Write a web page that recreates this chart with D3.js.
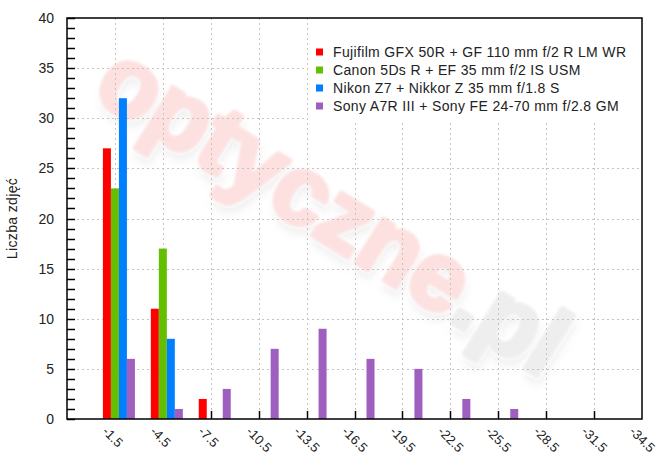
<!DOCTYPE html>
<html><head><meta charset="utf-8">
<script src="https://cdn.jsdelivr.net/npm/d3@7"></script>
<style>
body{margin:0;background:#fff}
svg{display:block}
text{font-family:"Liberation Sans",Arial,Helvetica,sans-serif}
</style>
</head><body>
<svg id="chart" width="670" height="463"></svg>
<script>
// ---- data ----
const categories = ["-1.5","-4.5","-7.5","-10.5","-13.5","-16.5","-19.5","-22.5","-25.5","-28.5","-31.5","-34.5"];
const seriesNames = [
  "Fujifilm GFX 50R + GF 110 mm f/2 R LM WR",
  "Canon 5Ds R + EF 35 mm f/2 IS USM",
  "Nikon Z7 + Nikkor Z 35 mm f/1.8 S",
  "Sony A7R III + Sony FE 24-70 mm f/2.8 GM"
];
const fujifilmValues = [27, 11, 2, 0, 0, 0, 0, 0, 0, 0, 0, 0];
const canonValues    = [23, 17, 0, 0, 0, 0, 0, 0, 0, 0, 0, 0];
const nikonValues    = [32,  8, 0, 0, 0, 0, 0, 0, 0, 0, 0, 0];
const sonyValues     = [ 6,  1, 3, 7, 9, 6, 5, 2, 1, 0, 0, 0];
const seriesColors = ["#ff0000", "#63bf00", "#0080ff", "#9f5fbf"];
const yTickLabels = [0, 5, 10, 15, 20, 25, 30, 35, 40];
const yAxisTitle = "Liczba zdjęć";
const watermarkParts = ["optyczne", ".pl"];

const seriesValues = [fujifilmValues, canonValues, nikonValues, sonyValues];

// ---- layout ----
const L = 67, R = 642, T = 18, B = 419;
const svg = d3.select("#chart");

const x = d3.scaleBand().domain(categories).range([L, R]);
const groupShift = 4;
const groupCenter = c => x(c) + x.bandwidth() + groupShift;
const xs = d3.scaleBand().domain(seriesNames).range([-16, 16]);
const y = d3.scaleLinear().domain([0, 40]).range([B, T]);

// ---- watermark ----
const defs = svg.append("defs");
const f = defs.append("filter").attr("id", "wm").attr("x", "-20%").attr("y", "-40%").attr("width", "140%").attr("height", "180%");
f.append("feGaussianBlur").attr("in", "SourceAlpha").attr("stdDeviation", 4).attr("result", "b");
f.append("feOffset").attr("in", "b").attr("dx", 5).attr("dy", 6).attr("result", "o");
f.append("feFlood").attr("flood-color", "#000").attr("flood-opacity", 0.06);
f.append("feComposite").attr("in2", "o").attr("operator", "in").attr("result", "s");
f.append("feGaussianBlur").attr("in", "SourceGraphic").attr("stdDeviation", 0.8).attr("result", "g");
const fm = f.append("feMerge");
fm.append("feMergeNode").attr("in", "s");
fm.append("feMergeNode").attr("in", "g");

const wm = svg.append("text")
  .attr("transform", "translate(90,96) rotate(32)")
  .attr("font-size", 97).attr("font-weight", "bold")
  .attr("stroke-width", 5).attr("stroke-linejoin", "round")
  .attr("filter", "url(#wm)");
const wmFill = ["#fde1e1", "#eeeeee"];
wm.selectAll("tspan").data(watermarkParts).join("tspan")
  .attr("fill", (d, i) => wmFill[i]).attr("stroke", (d, i) => wmFill[i]).text(d => d);

// ---- grid ----
const grid = svg.append("g").attr("stroke", "#c4c4c4").attr("stroke-dasharray", "2,3").attr("stroke-width", 1);
grid.selectAll("line.v").data(categories.slice(1)).join("line")
  .attr("x1", d => Math.round(x(d)) + 0.5).attr("x2", d => Math.round(x(d)) + 0.5)
  .attr("y1", T).attr("y2", B);
grid.selectAll("line.h").data(yTickLabels.filter(v => v > 0 && v < 40)).join("line")
  .attr("x1", L).attr("x2", R)
  .attr("y1", d => Math.round(y(d)) + 0.5).attr("y2", d => Math.round(y(d)) + 0.5);

// ---- legend background ----
svg.append("rect").attr("x", 308).attr("y", T + 1).attr("width", R - 308).attr("height", 103).attr("fill", "#fff");

// ---- axes ticks ----
const ax = svg.append("g").attr("stroke", "#000").attr("stroke-width", 1.5);
ax.selectAll("line.yt").data(d3.range(0, 41)).join("line")
  .attr("x1", L).attr("x2", L + 8)
  .attr("y1", d => Math.round(y(d)) + 0.5).attr("y2", d => Math.round(y(d)) + 0.5);
ax.selectAll("line.xt").data(categories.slice(1)).join("line")
  .attr("x1", d => Math.round(x(d)) + 0.5).attr("x2", d => Math.round(x(d)) + 0.5)
  .attr("y1", B).attr("y2", B - 8);

// ---- bars ----
const groups = svg.append("g").selectAll("g").data(seriesNames).join("g")
  .attr("fill", (d, i) => seriesColors[i]);
groups.selectAll("rect")
  .data((s, si) => categories.map((c, ci) => ({ c, s, v: seriesValues[si][ci] })).filter(d => d.v > 0))
  .join("rect")
  .attr("x", d => groupCenter(d.c) + xs(d.s))
  .attr("width", xs.bandwidth())
  .attr("y", d => y(d.v))
  .attr("height", d => y(0) - y(d.v));

// ---- frame ----
svg.append("rect").attr("x", L).attr("y", T).attr("width", R - L).attr("height", B - T)
  .attr("fill", "none").attr("stroke", "#000").attr("stroke-width", 1.5);

// ---- tick labels ----
svg.append("g").selectAll("text").data(yTickLabels).join("text")
  .attr("x", 54).attr("y", d => y(d)).attr("dy", "0.36em")
  .attr("text-anchor", "end").attr("font-size", 14).attr("fill", "#222")
  .text(d => d);

svg.append("g").selectAll("text").data(categories).join("text")
  .attr("transform", d => `translate(${groupCenter(d) - 14},${B + 10}) rotate(45)`)
  .attr("dy", "0.35em")
  .attr("font-size", 13).attr("fill", "#222")
  .text(d => d);

// ---- y title ----
svg.append("text")
  .attr("transform", `translate(17,${(T + B) / 2}) rotate(-90)`)
  .attr("text-anchor", "middle").attr("font-size", 14).attr("letter-spacing", 0.35).attr("fill", "#222")
  .text(yAxisTitle);

// ---- legend ----
const leg = svg.append("g").selectAll("g").data(seriesNames).join("g")
  .attr("transform", (d, i) => `translate(316,${52 + i * 18})`);
leg.append("rect").attr("x", 0).attr("y", -3.5).attr("width", 7).attr("height", 7)
  .attr("fill", (d, i) => seriesColors[i]);
leg.append("text").attr("x", 17).attr("dy", "0.36em")
  .attr("font-size", 14).attr("letter-spacing", 0.35).attr("fill", "#222")
  .text(d => d);
</script>
</body></html>
